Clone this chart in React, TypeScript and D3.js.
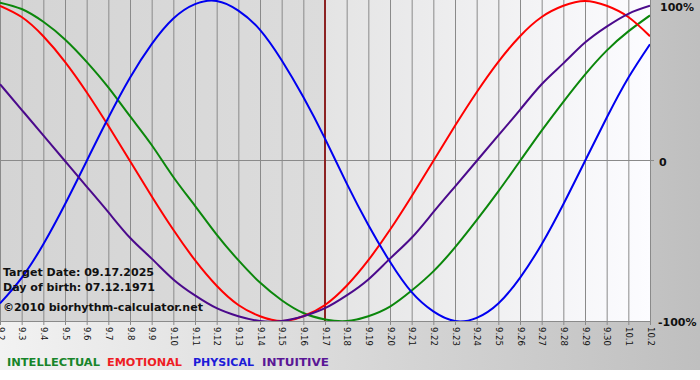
import React from "react";
import * as d3 from "d3";

const dayLabels = ["9.2","9.3","9.4","9.5","9.6","9.7","9.8","9.9","9.10","9.11","9.12","9.13","9.14","9.15","9.16","9.17","9.18","9.19","9.20","9.21","9.22","9.23","9.24","9.25","9.26","9.27","9.28","9.29","9.30","10.1","10.2"];

const physical = [-0.89,-0.73,-0.52,-0.27,0,0.27,0.52,0.73,0.89,0.98,1.0,0.94,0.82,0.63,0.40,0.14,-0.14,-0.40,-0.63,-0.82,-0.94,-1.0,-0.98,-0.89,-0.73,-0.52,-0.27,0,0.27,0.52,0.73];
const emotional = [0.97,0.90,0.78,0.62,0.43,0.22,0,-0.22,-0.43,-0.62,-0.78,-0.90,-0.97,-1.0,-0.97,-0.90,-0.78,-0.62,-0.43,-0.22,0,0.22,0.43,0.62,0.78,0.90,0.97,1.0,0.97,0.90,0.78];
const intellectual = [0.99,0.95,0.87,0.76,0.62,0.46,0.28,0.10,-0.10,-0.28,-0.46,-0.62,-0.76,-0.87,-0.95,-0.99,-1.0,-0.97,-0.91,-0.81,-0.69,-0.54,-0.37,-0.19,0,0.19,0.37,0.54,0.69,0.81,0.91];
const intuitive = [0.48,0.32,0.16,0,-0.16,-0.32,-0.48,-0.61,-0.74,-0.84,-0.92,-0.97,-1.0,-1.0,-0.97,-0.92,-0.84,-0.74,-0.61,-0.48,-0.32,-0.16,0,0.16,0.32,0.48,0.61,0.74,0.84,0.92,0.97];

const yTicks = [
  { v: 1, label: "100%" },
  { v: 0, label: "0" },
  { v: -1, label: "-100%" },
];
const targetIndex = 15;
const infoLines = ["Target Date: 09.17.2025", "Day of birth: 07.12.1971", "\u00A92010 biorhythm-calculator.net"];

const series = [
  { name: "INTELLECTUAL", values: intellectual, color: "#0b870b", legend: "#17852a" },
  { name: "EMOTIONAL", values: emotional, color: "#ff0000", legend: "#ee1c24" },
  { name: "PHYSICAL", values: physical, color: "#0000f0", legend: "#1c1cd8" },
  { name: "INTUITIVE", values: intuitive, color: "#4b0a8c", legend: "#5a1796" },
];

export default function App() {
  const W = 700, H = 380;
  const plotL = 0, plotR = 650, plotT = 1, plotB = 321;
  const x = d3.scaleLinear().domain([0, dayLabels.length - 1]).range([plotL, plotR]);
  const y = d3.scaleLinear().domain([-1, 1]).range([plotB, plotT]);
  const line = d3
    .line<number>()
    .x((_, i) => x(i))
    .y((d) => y(d))
    .curve(d3.curveNatural);
  const tx = x(targetIndex);
  const font = "'DejaVu Sans', Verdana, sans-serif";
  const legendX = [7, 107, 193, 262];
  const legendW = [93, 75, 61, 67];
  const infoY = [276, 291, 311];
  const infoW = [151, 152, 200];
  const yLabelY = [11, 166, 326];
  const yLabelX = [660, 659, 658];

  return (
    <svg width={W} height={H} style={{ position: "absolute", left: 0, top: 0 }} xmlns="http://www.w3.org/2000/svg">
      <defs>
        <linearGradient id="outer" x1="0" x2="1" y1="0" y2="0">
          <stop offset="0" stopColor="#f2f2f2" />
          <stop offset="1" stopColor="#bfbfbf" />
        </linearGradient>
        <linearGradient id="past" x1="0" x2="1" y1="0" y2="0">
          <stop offset="0" stopColor="#d4d4d4" />
          <stop offset="1" stopColor="#dcdcdc" />
        </linearGradient>
        <linearGradient id="future" x1="0" x2="1" y1="0" y2="0">
          <stop offset="0" stopColor="#e4e4e4" />
          <stop offset="1" stopColor="#fcfcff" />
        </linearGradient>
        <clipPath id="plotclip">
          <rect x={plotL} y={0} width={plotR - plotL} height={plotB} />
        </clipPath>
      </defs>
      <rect x={0} y={0} width={W} height={H} fill="#ffffff" />
      <rect x={0} y={0} width={W} height={370} fill="url(#outer)" />
      <rect x={plotL} y={0} width={tx - plotL} height={plotB} fill="url(#past)" />
      <rect x={tx} y={0} width={plotR - tx} height={plotB} fill="url(#future)" />

      {dayLabels.map((lab, i) => (
        <g key={lab}>
          <line x1={x(i) + 0.5} x2={x(i) + 0.5} y1={0} y2={plotB + 4} stroke="#8a8a8a" strokeWidth={1} />
          <text
            transform={`translate(${x(i) + 0.5},${plotB + 6}) rotate(90)`}
            fontFamily={font}
            fontSize={8.5}
            dominantBaseline="central"
            fill="#111"
          >
            {lab}
          </text>
        </g>
      ))}
      <line x1={plotL} x2={plotR + 4} y1={Math.round(y(0)) - 0.5} y2={Math.round(y(0)) - 0.5} stroke="#8a8a8a" strokeWidth={1} />
      <line x1={plotL} x2={plotR + 1} y1={plotB + 0.5} y2={plotB + 0.5} stroke="#8a8a8a" strokeWidth={1} />

      <line x1={tx} x2={tx} y1={0} y2={plotB} stroke="#8c2222" strokeWidth={2} />

      <g clipPath="url(#plotclip)">
        {series.map((s) => (
          <path key={s.name} d={line(s.values) || ""} fill="none" stroke={s.color} strokeWidth={2} />
        ))}
      </g>

      {infoLines.map((t, i) => (
        <text key={t} x={3} y={infoY[i]} fontFamily={font} fontWeight="bold" fontSize={11} fill="#111" textLength={infoW[i]} lengthAdjust="spacingAndGlyphs">
          {t}
        </text>
      ))}

      {yTicks.map((t, i) => (
        <text key={t.label} x={yLabelX[i]} y={yLabelY[i]} fontFamily={font} fontWeight="bold" fontSize={11} fill="#111">
          {t.label}
        </text>
      ))}

      {series.map((s, i) => (
        <text key={s.name} x={legendX[i]} y={366} fontFamily={font} fontWeight="bold" fontSize={11.3} fill={s.legend} textLength={legendW[i]} lengthAdjust="spacingAndGlyphs">
          {s.name}
        </text>
      ))}
    </svg>
  );
}
